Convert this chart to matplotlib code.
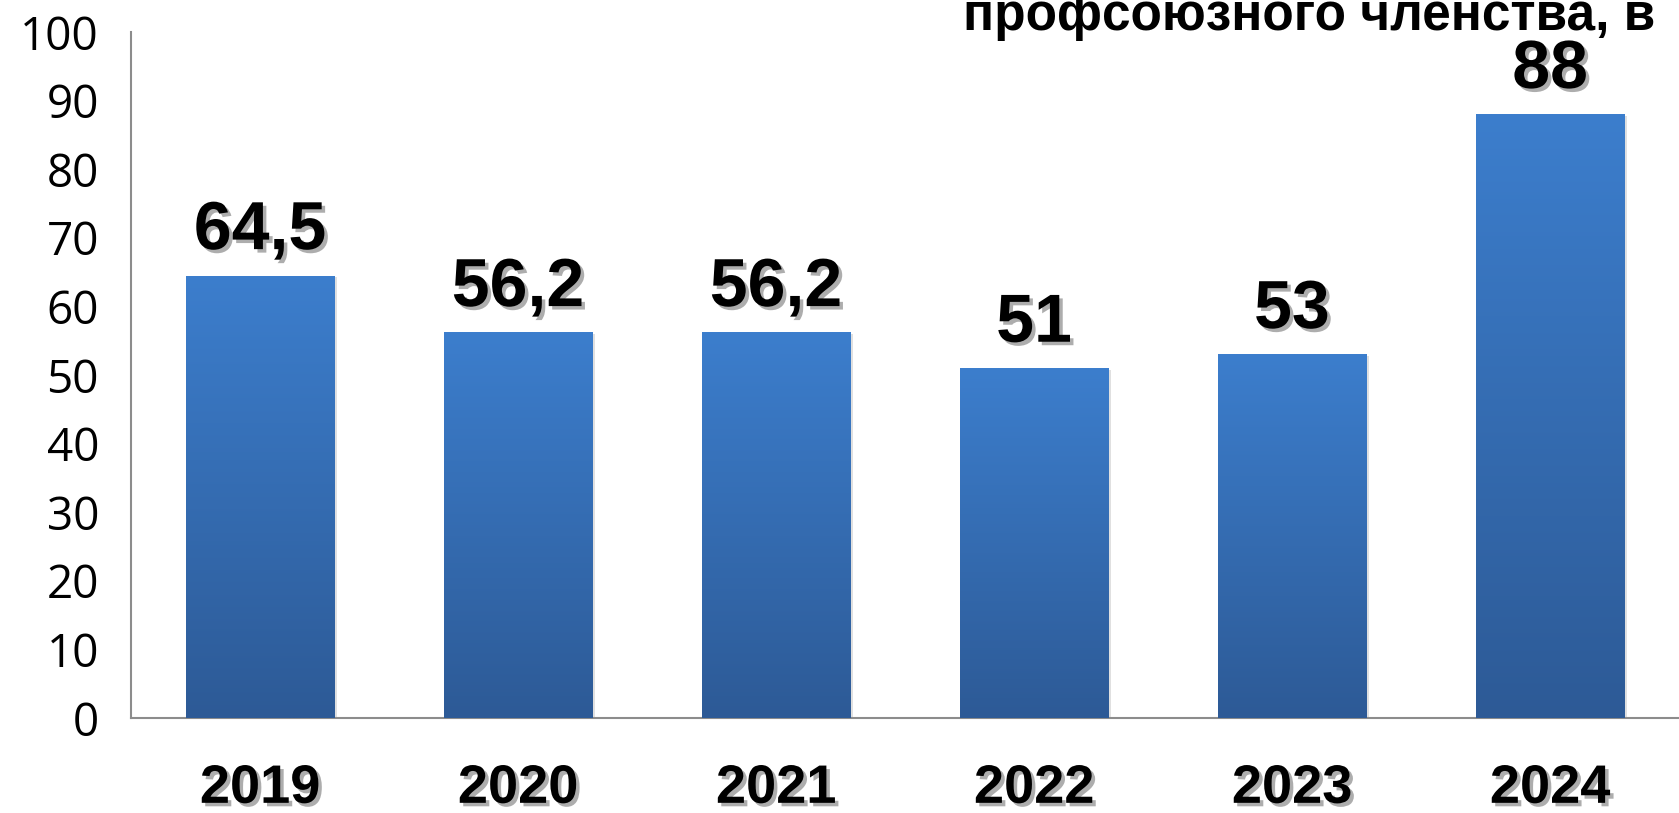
import numpy as np
import matplotlib.pyplot as plt
import matplotlib.patheffects as pe
from matplotlib.colors import LinearSegmentedColormap

# data
years = ['2019', '2020', '2021', '2022', '2023', '2024']
values = [64.5, 56.2, 56.2, 51, 53, 88]
value_labels = ['64,5', '56,2', '56,2', '51', '53', '88']
yticks = list(range(0, 101, 10))
title_part = 'профсоюзного членства, в'

W, H = 1679, 813
fig = plt.figure(figsize=(W / 100, H / 100), dpi=100)
fig.patch.set_facecolor('white')
ax = fig.add_axes([131 / W, 95 / H, 1 - 131 / W, (781 - 95) / H])

x = np.arange(len(years))
bars = ax.bar(x, values, width=0.577, color='#3470b8', zorder=2,
              path_effects=[pe.SimplePatchShadow(offset=(2, -1), shadow_rgbFace='k', alpha=0.12),
                            pe.Normal()])

# vertical gradient inside every bar
cmap = LinearSegmentedColormap.from_list('barg', ['#2d5a96', '#3c7ecd'])
grad = np.linspace(0, 1, 256).reshape(-1, 1)
for b in bars:
    x0, w, h = b.get_x(), b.get_width(), b.get_height()
    im = ax.imshow(grad, cmap=cmap, origin='lower', aspect='auto',
                   extent=(x0, x0 + w, 0, h), zorder=3)
    im.set_clip_path(b)

shadow = [pe.SimplePatchShadow(offset=(2.5, -2.5), shadow_rgbFace='#777777', alpha=0.6), pe.Normal()]

for xi, v, lab in zip(x, values, value_labels):
    ax.annotate(lab, (xi, v), xytext=(0, 19), textcoords='offset points',
                ha='center', va='baseline', fontsize=49, fontweight='bold',
                family='Liberation Sans', color='black', path_effects=shadow,
                annotation_clip=False, zorder=5)

ax.set_xlim(-0.5, 5.5)
ax.set_ylim(0, 100)
ax.set_yticks(yticks)
ax.set_yticklabels([str(t) for t in yticks], fontsize=33, family='Open Sans')
ax.set_xticks(x)
ax.set_xticklabels(years, fontsize=39, fontweight='bold', family='Liberation Sans')
for t in ax.get_xticklabels():
    t.set_path_effects(shadow)
ax.tick_params(axis='y', length=0, pad=23)
ax.tick_params(axis='x', length=0, pad=33)

for s in ['top', 'right']:
    ax.spines[s].set_visible(False)
for s in ['left', 'bottom']:
    ax.spines[s].set_color('#8c8c8c')
    ax.spines[s].set_linewidth(1.5)
ax.set_facecolor('none')

fig.text(1655 / W, 1 - 30 / H, title_part, ha='right', va='baseline',
         fontsize=37, fontweight='bold', family='Liberation Sans', color='black')

fig.savefig('out.png', dpi=100)
